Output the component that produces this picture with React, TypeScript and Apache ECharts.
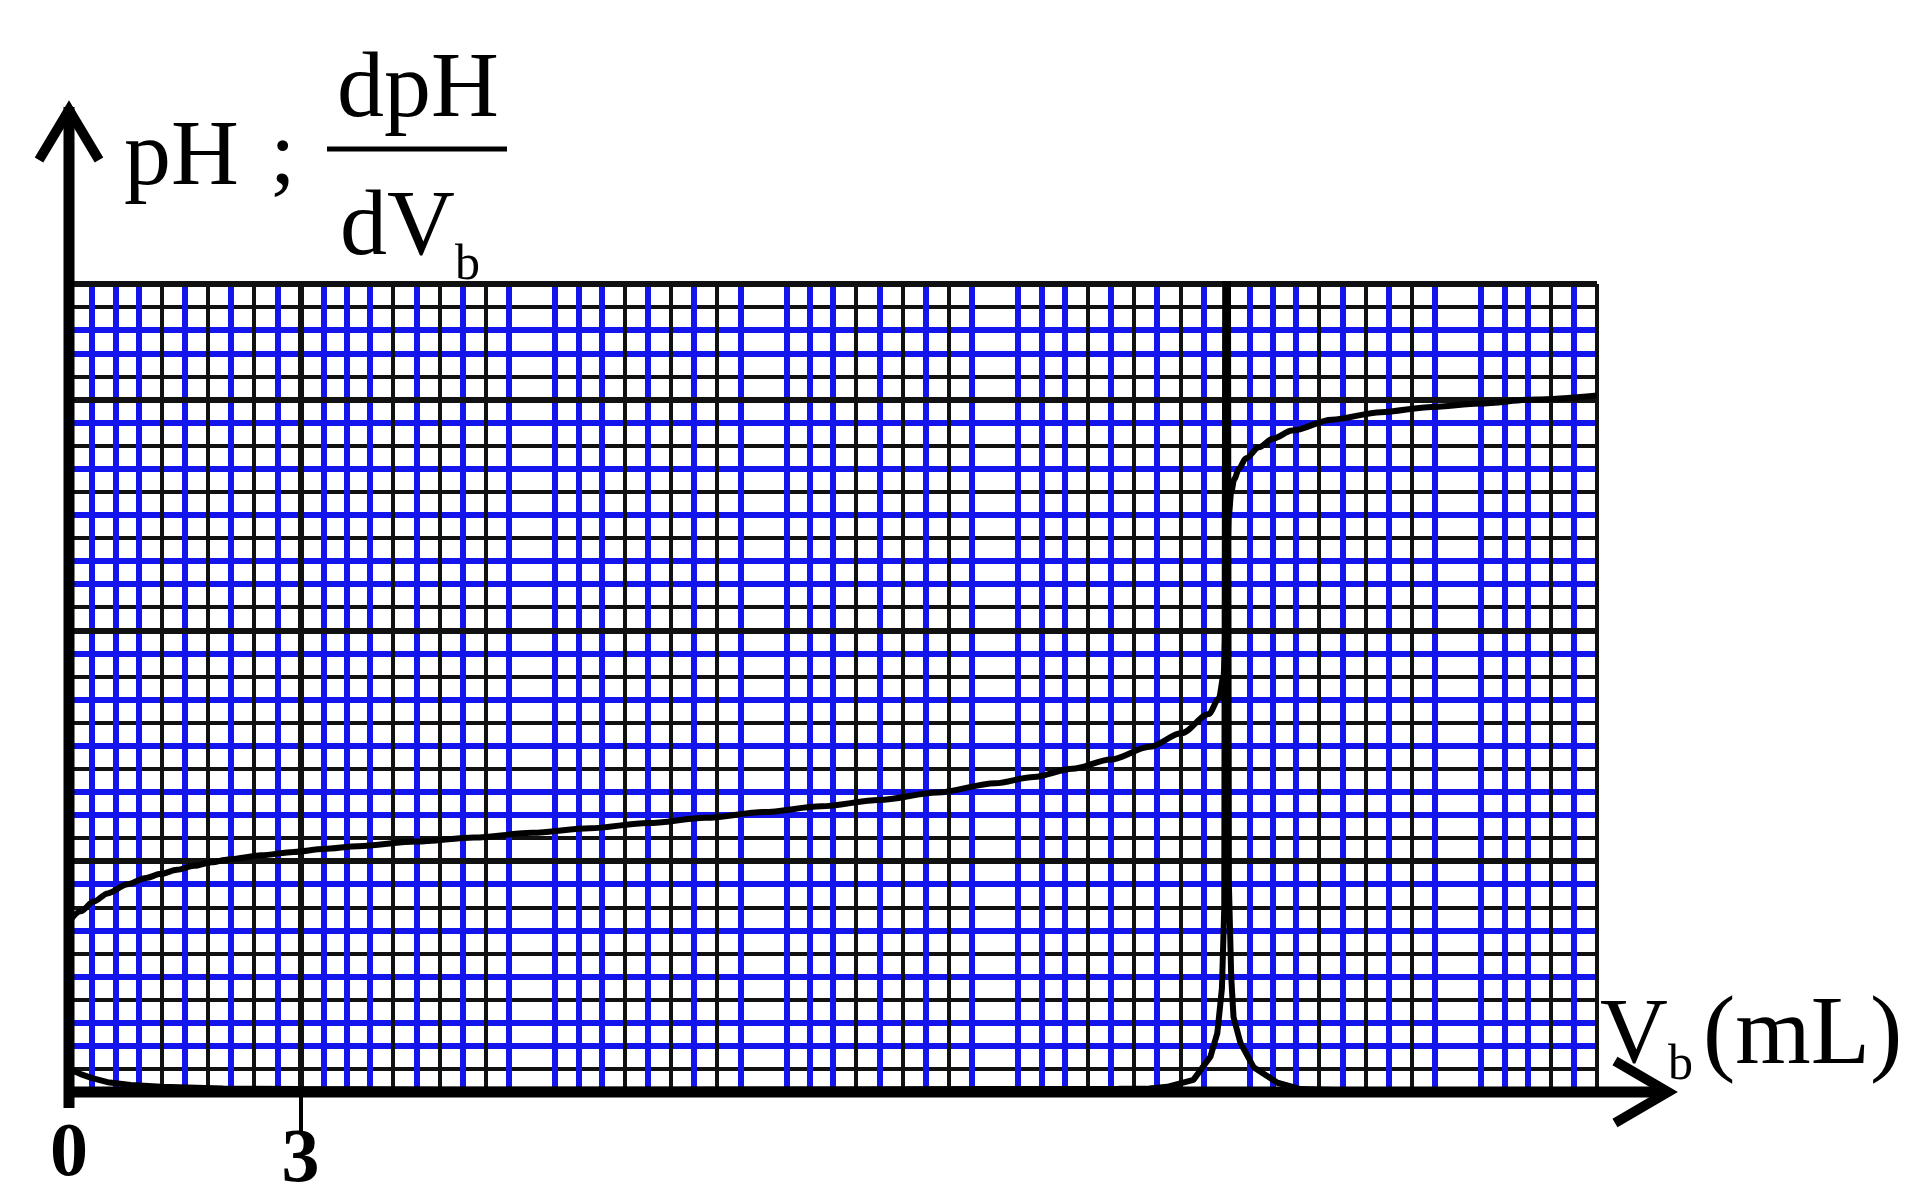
import React, { useEffect, useRef } from "react";
import * as echarts from "echarts";

// ---- Data ----
const phVolumes = [0, 0.15, 0.32, 0.5, 0.76, 1.0, 1.19, 1.4, 1.62, 1.85, 2.06, 2.49, 2.91, 3.3, 3.75, 4.5, 5.25, 6.0, 6.75, 7.5, 8.25, 9.0, 9.75, 10.5, 11.25, 12.0, 12.5, 13.0, 13.5, 14.0, 14.42, 14.77, 14.9, 14.96, 15.0, 15.03, 15.06, 15.1, 15.16, 15.25, 15.42, 15.6, 15.85, 16.36, 17.0, 17.66, 18.28, 19.0, 19.8];
const phValues = [2.95, 3.13, 3.3, 3.44, 3.6, 3.71, 3.78, 3.85, 3.92, 3.98, 4.03, 4.1, 4.16, 4.21, 4.26, 4.34, 4.41, 4.49, 4.57, 4.66, 4.75, 4.85, 4.95, 5.06, 5.19, 5.35, 5.46, 5.6, 5.76, 5.98, 6.22, 6.55, 6.82, 7.2, 8.6, 10.0, 10.4, 10.62, 10.8, 10.98, 11.17, 11.32, 11.46, 11.65, 11.78, 11.87, 11.93, 12.0, 12.07];

const derivVolumes = [0, 0.15, 0.3, 0.5, 0.8, 1.2, 2.0, 3.0, 5.0, 7.5, 10.0, 12.0, 13.0, 13.6, 14.0, 14.23, 14.57, 14.79, 14.88, 14.94, 14.97, 15.0, 15.03, 15.06, 15.09, 15.18, 15.35, 15.66, 15.96, 16.5, 18.0, 19.8];
const derivValues = [0.4, 0.31, 0.24, 0.17, 0.12, 0.09, 0.06, 0.05, 0.04, 0.04, 0.045, 0.05, 0.05, 0.055, 0.06, 0.09, 0.21, 0.61, 1.02, 1.8, 3.2, 30, 3.6, 2.0, 1.3, 0.85, 0.43, 0.16, 0.05, 0.03, 0.02, 0.015];

const xTickLabels = [0, 3];
const xTicks = [3];

// ---- Layout / style constants ----
const GRID_LEFT = 69;
const GRID_TOP = 284;
const GRID_W = 1528;
const GRID_H = 808;
const X0 = GRID_LEFT;
const Y0 = GRID_TOP + GRID_H;
const BLUE = "#1414ec";
const BLACK = "#111111";
const T = "rgba(0,0,0,0)";
const SERIF = "'Liberation Serif', 'Times New Roman', serif";

// colour cycles for the minor grid (index 0 = major line)
const xBluePattern = [T, BLUE, BLUE, BLUE, T, BLUE, T, BLUE, T, BLUE];
const xBlackPattern = [T, T, T, T, BLACK, T, BLACK, T, BLACK, T];
const yBluePattern = [T, T, BLUE, BLUE, T, BLUE, T, BLUE, T, BLUE];
const yBlackPattern = [T, BLACK, T, T, BLACK, T, BLACK, T, BLACK, T];

const X_MIN = 0, X_MAX = 19.8, Y_MIN = 0, Y_MAX = 14;

function minorX(colors: string[], width: number) {
  return {
    type: "value", min: X_MIN, max: X_MAX, interval: 0.3, z: 0,
    axisLine: { show: false }, axisTick: { show: false }, axisLabel: { show: false },
    splitLine: { show: true, lineStyle: { color: colors, width } },
  };
}
function minorY(colors: string[], width: number) {
  return {
    type: "value", min: Y_MIN, max: Y_MAX, interval: 0.4, z: 0,
    axisLine: { show: false }, axisTick: { show: false }, axisLabel: { show: false },
    splitLine: { show: true, lineStyle: { color: colors, width } },
  };
}

export default function App() {
  const ref = useRef<HTMLDivElement>(null);
  useEffect(() => {
    if (!ref.current) return;
    const chart = echarts.init(ref.current, undefined, { renderer: "svg" });
    const phData = phVolumes.map((v, i) => [v, phValues[i]]);
    const dData = derivVolumes.map((v, i) => [v, derivValues[i]]);
    const labelFont = { fontFamily: SERIF, fontSize: 76, fontWeight: "bold", color: "#000", lineHeight: 66 };
    const option: any = {
      animation: false,
      backgroundColor: "#ffffff",
      grid: {
        left: GRID_LEFT, top: GRID_TOP, width: GRID_W, height: GRID_H, show: false,
        containLabel: false, outerBoundsMode: "none",
      },
      xAxis: [
        {
          type: "value", min: X_MIN, max: X_MAX, interval: 3, z: 1,
          axisLine: { show: false },
          axisTick: { show: true, customValues: xTicks, length: 42, lineStyle: { color: "#000", width: 4 } },
          axisLabel: {
            show: true, customValues: xTickLabels, margin: 24,
            ...labelFont,
            formatter: (v: number) => (v === 3 ? "{low|3}" : "{n|" + v + "}"),
            rich: {
              n: { ...labelFont },
              low: { ...labelFont, padding: [12, 0, 0, 0] },
            },
          },
          splitLine: { show: true, lineStyle: { color: BLACK, width: 6 } },
        },
        minorX(xBluePattern, 6),
        minorX(xBlackPattern, 4),
      ],
      yAxis: [
        {
          type: "value", min: Y_MIN, max: Y_MAX, interval: 4, z: 1,
          axisLine: { show: false }, axisTick: { show: false }, axisLabel: { show: false },
          splitLine: { show: true, lineStyle: { color: BLACK, width: 6 } },
        },
        minorY(yBluePattern, 6),
        minorY(yBlackPattern, 4),
      ],
      series: [
        {
          name: "pH", type: "line", xAxisIndex: 0, yAxisIndex: 0, z: 10,
          data: phData, showSymbol: false, symbol: "none",
          smooth: 0.3, smoothMonotone: "x",
          lineStyle: { color: "#000", width: 6 },
        },
        {
          name: "dpH/dVb", type: "line", xAxisIndex: 0, yAxisIndex: 0, z: 10,
          data: dData, showSymbol: false, symbol: "none", clip: true,
          lineStyle: { color: "#000", width: 6 },
        },
      ],
      graphic: [
        // axes with open arrowheads
        { type: "line", z: 50, shape: { x1: X0, y1: 107, x2: X0, y2: Y0 + 16 }, style: { stroke: "#000", lineWidth: 11 } },
        { type: "polyline", z: 50, shape: { points: [[X0 - 30, 160], [X0, 110], [X0 + 30, 160]] }, style: { stroke: "#000", lineWidth: 10, fill: null } },
        { type: "line", z: 50, shape: { x1: X0 - 5, y1: Y0, x2: 1668, y2: Y0 }, style: { stroke: "#000", lineWidth: 11 } },
        { type: "polyline", z: 50, shape: { points: [[1615, Y0 - 31], [1668, Y0], [1615, Y0 + 31]] }, style: { stroke: "#000", lineWidth: 10, fill: null } },
        // y-axis name: pH ; dpH/dVb
        { type: "text", z: 50, x: 124, y: 152, style: { text: "pH", font: `94px ${SERIF}`, fill: "#000", textVerticalAlign: "middle", textAlign: "left" } },
        { type: "text", z: 50, x: 270, y: 152, style: { text: ";", font: `92px ${SERIF}`, fill: "#000", textVerticalAlign: "middle", textAlign: "left" } },
        { type: "text", z: 50, x: 418, y: 84, style: { text: "dpH", font: `94px ${SERIF}`, fill: "#000", textVerticalAlign: "middle", textAlign: "center" } },
        { type: "line", z: 50, shape: { x1: 327, y1: 149, x2: 507, y2: 149 }, style: { stroke: "#000", lineWidth: 5 } },
        { type: "text", z: 50, x: 340, y: 222, style: { text: "dV", font: `94px ${SERIF}`, fill: "#000", textVerticalAlign: "middle", textAlign: "left" } },
        { type: "text", z: 50, x: 455, y: 262, style: { text: "b", font: `50px ${SERIF}`, fill: "#000", textVerticalAlign: "middle", textAlign: "left" } },
        // x-axis name: Vb (mL)
        { type: "text", z: 50, x: 1600, y: 1030, style: { text: "V", font: `94px ${SERIF}`, fill: "#000", textVerticalAlign: "middle", textAlign: "left" } },
        { type: "text", z: 50, x: 1668, y: 1062, style: { text: "b", font: `50px ${SERIF}`, fill: "#000", textVerticalAlign: "middle", textAlign: "left" } },
        { type: "text", z: 50, x: 1703, y: 1030, style: { text: "(mL)", font: `97px ${SERIF}`, fill: "#000", textVerticalAlign: "middle", textAlign: "left" } },
      ],
    };
    chart.setOption(option);
    return () => chart.dispose();
  }, []);
  return (
    <div
      ref={ref}
      style={{ position: "absolute", left: 0, top: 0, width: 1915, height: 1200, background: "#fff" }}
    />
  );
}
